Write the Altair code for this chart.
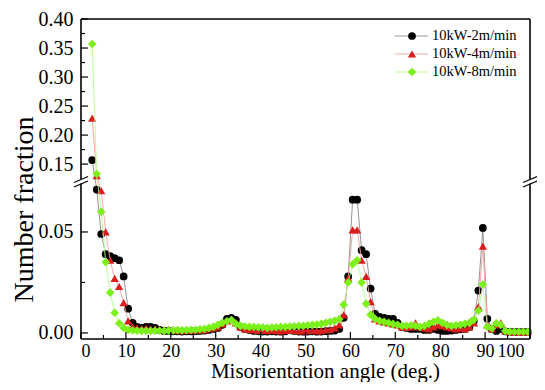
import altair as alt
import pandas as pd

# bin centres (deg.)
angles = [n + 0.5 for n in range(2, 100)]

s_2 = [0.157, 0.071, 0.049, 0.039, 0.038, 0.037, 0.036, 0.028, 0.012, 0.005,
       0.003, 0.0025, 0.003, 0.003, 0.0025, 0.0015, 0.001, 0.001, 0.0008, 0.0008,
       0.0007, 0.0008, 0.0008, 0.0009, 0.001, 0.0012, 0.0015, 0.002, 0.0025, 0.004,
       0.007, 0.0075, 0.0065, 0.003, 0.002, 0.0015, 0.001, 0.0008, 0.0007, 0.0007,
       0.0008, 0.0007, 0.0006, 0.0008, 0.0015, 0.001, 0.0007, 0.0006, 0.0007, 0.0008,
       0.0006, 0.0007, 0.0009, 0.001, 0.0012, 0.002, 0.0075, 0.028, 0.066, 0.066,
       0.041, 0.039, 0.022, 0.0095, 0.008, 0.0075, 0.007, 0.007, 0.005, 0.003,
       0.0025, 0.002, 0.002, 0.002, 0.0015, 0.0015, 0.002, 0.0015, 0.001, 0.001,
       0.0012, 0.0015, 0.0018, 0.002, 0.003, 0.006, 0.021, 0.052, 0.007, 0.002,
       0.001, 0.002, 0.0008, 0.0005, 0.0005, 0.0005, 0.0005, 0.0005]

s_4 = [0.229, 0.130, 0.0705, 0.050, 0.036, 0.027, 0.023, 0.015, 0.006, 0.003,
       0.0025, 0.0022, 0.0025, 0.002, 0.002, 0.0018, 0.0015, 0.0018, 0.0015, 0.0013,
       0.0012, 0.0014, 0.0013, 0.0015, 0.0016, 0.0015, 0.002, 0.0025, 0.003, 0.0045,
       0.006, 0.0065, 0.005, 0.003, 0.002, 0.0018, 0.0015, 0.0012, 0.0013, 0.0012,
       0.0014, 0.0012, 0.001, 0.0013, 0.0015, 0.0012, 0.001, 0.0012, 0.0011, 0.0013,
       0.001, 0.0012, 0.0015, 0.0018, 0.0025, 0.004, 0.009, 0.027, 0.051, 0.051,
       0.036, 0.028, 0.0155, 0.007, 0.006, 0.0055, 0.005, 0.0045, 0.004, 0.003,
       0.0028, 0.003, 0.005, 0.003, 0.0025, 0.002, 0.003, 0.004, 0.0035, 0.003,
       0.0025, 0.002, 0.0025, 0.002, 0.003, 0.005, 0.013, 0.043, 0.004, 0.002,
       0.004, 0.005, 0.001, 0.0005, 0.0005, 0.0005, 0.0005, 0.0005]

s_8 = [0.357, 0.133, 0.060, 0.035, 0.020, 0.010, 0.0048, 0.0025, 0.0015, 0.0012,
       0.0011, 0.001, 0.001, 0.001, 0.001, 0.0011, 0.001, 0.0012, 0.0013, 0.0014,
       0.0013, 0.0014, 0.0015, 0.0016, 0.0018, 0.002, 0.0025, 0.003, 0.004, 0.005,
       0.0058, 0.0064, 0.0045, 0.0035, 0.0032, 0.003, 0.003, 0.0028, 0.0028, 0.0025,
       0.0027, 0.0028, 0.003, 0.003, 0.0032, 0.0033, 0.0035, 0.0035, 0.0038, 0.004,
       0.0042, 0.0045, 0.005, 0.0055, 0.006, 0.0068, 0.014, 0.025, 0.034, 0.036,
       0.025, 0.0145, 0.009, 0.007, 0.006, 0.0055, 0.005, 0.0045, 0.004, 0.0035,
       0.0035, 0.0038, 0.0035, 0.003, 0.0035, 0.0045, 0.0055, 0.0062, 0.005, 0.004,
       0.0035, 0.0038, 0.004, 0.0045, 0.005, 0.0065, 0.011, 0.024, 0.003, 0.0022,
       0.0048, 0.004, 0.001, 0.0006, 0.0006, 0.0006, 0.0006, 0.0006]

series_names = ["10kW-2m/min", "10kW-4m/min", "10kW-8m/min"]
y_major = [0.0, 0.05, 0.15, 0.20, 0.25, 0.30, 0.35, 0.40]
y_minor = [0.025, 0.175, 0.225, 0.275, 0.325, 0.375]
x_major = [0, 10, 20, 30, 40, 50, 60, 70, 80, 90, 100]
x_minor = [5, 15, 25, 35, 45, 55, 65, 75, 85, 95]

W, H = 449, 320
BRK = 162.5
FONT = "Liberation Serif"

xscale = alt.Scale(domain=[0, 100], nice=False, zero=False)
yscale = alt.Scale(domain=[-0.003, 0.075, 0.12, 0.40], range=[H, BRK, BRK, 0],
                   zero=False, nice=False)

xaxis = alt.Axis(values=x_major, format="d", ticks=False, domain=False, grid=False,
                 labelFont=FONT, labelFontSize=18, labelColor="black", labelPadding=3,
                 labelOffset={"condition": {"test": "datum.value == 100", "value": -6}, "value": 0},
                 title="Misorientation angle (deg.)", titleFont=FONT, titleFontSize=21,
                 titleFontWeight="normal", titleColor="black", titleX=244, titleY=38,
                 titleBaseline="alphabetic", titleAlign="center")
yaxis = alt.Axis(values=y_major, format=".2f", ticks=False, domain=False, grid=False,
                 labelFont=FONT, labelFontSize=20, labelColor="black", labelPadding=8,
                 title="Number fraction", titleFont=FONT, titleFontSize=28,
                 titleFontWeight="normal", titleColor="black", titleX=-57, titleY=190,
                 titleAngle=270, titleBaseline="middle", titleAlign="center")

def X(field):
    return alt.X(field, type="quantitative", scale=xscale, axis=xaxis)

def Y(field):
    return alt.Y(field, type="quantitative", scale=yscale, axis=yaxis)

styles = [
    (s_2, "#8a8a8a", "black", "circle", 60),
    (s_4, "#f4a0a0", "#d81e1e", "triangle-up", 70),
    (s_8, "#b4ff90", "#7cf01a", "diamond", 75),
]

layers = []
for vals, lc, mc, shape, size in styles:
    df = pd.DataFrame({"angle": angles, "frac": vals})
    base = alt.Chart(df)
    layers.append(base.mark_line(color=lc, strokeWidth=0.9).encode(x=X("angle"), y=Y("frac")))
    layers.append(base.mark_point(filled=True, shape=shape, size=size, color=mc, opacity=1,
                                  strokeWidth=0).encode(x=X("angle"), y=Y("frac")))

# inward ticks
one = pd.DataFrame({"k": [0]})
layers.append(alt.Chart(pd.DataFrame({"v": y_major})).mark_rule(color="black", strokeWidth=1.2)
              .encode(y=Y("v"), x=alt.value(0), x2=alt.value(7)))
layers.append(alt.Chart(pd.DataFrame({"v": y_minor})).mark_rule(color="black", strokeWidth=1.2)
              .encode(y=Y("v"), x=alt.value(0), x2=alt.value(4)))
layers.append(alt.Chart(pd.DataFrame({"v": x_major})).mark_rule(color="black", strokeWidth=1.2)
              .encode(x=X("v"), y=alt.value(H), y2=alt.value(H - 7)))
layers.append(alt.Chart(pd.DataFrame({"v": x_minor})).mark_rule(color="black", strokeWidth=1.2)
              .encode(x=X("v"), y=alt.value(H), y2=alt.value(H - 4)))

# frame
frame = alt.Chart(one)
layers.append(frame.mark_rule(color="black", strokeWidth=1.6).encode(x=alt.value(0), x2=alt.value(W), y=alt.value(0)))
layers.append(frame.mark_rule(color="black", strokeWidth=1.6).encode(x=alt.value(0), x2=alt.value(W), y=alt.value(H)))
layers.append(frame.mark_rule(color="black", strokeWidth=1.6).encode(x=alt.value(0), y=alt.value(0), y2=alt.value(H)))
layers.append(frame.mark_rule(color="black", strokeWidth=1.6).encode(x=alt.value(W), y=alt.value(0), y2=alt.value(H)))

# axis break marks
for bx in (0, W):
    layers.append(frame.mark_rect(color="white").encode(
        x=alt.value(bx - 3), x2=alt.value(bx + 3), y=alt.value(BRK - 2.5), y2=alt.value(BRK + 2)))
    layers.append(frame.mark_rule(color="black", strokeWidth=1.2).encode(
        x=alt.value(bx - 7), x2=alt.value(bx + 7), y=alt.value(BRK + 5.5), y2=alt.value(BRK - 0.5)))
    layers.append(frame.mark_rule(color="black", strokeWidth=1.2).encode(
        x=alt.value(bx - 7), x2=alt.value(bx + 7), y=alt.value(BRK + 1), y2=alt.value(BRK - 5)))

# legend
for i, (name, (vals, lc, mc, shape, size)) in enumerate(zip(series_names, styles)):
    ly = 17 + 18 * i
    layers.append(frame.mark_rule(color=lc, strokeWidth=0.9).encode(
        x=alt.value(314), x2=alt.value(347), y=alt.value(ly)))
    layers.append(frame.mark_point(filled=True, shape=shape, size=size, color=mc, opacity=1,
                                   strokeWidth=0).encode(x=alt.value(331), y=alt.value(ly)))
    layers.append(frame.mark_text(text=name, align="left", baseline="middle", font=FONT,
                                  fontSize=14.5, color="black").encode(
        x=alt.value(351), y=alt.value(ly)))

chart = alt.layer(*layers).properties(
    width=W, height=H,
    autosize=alt.AutoSizeParams(type="none"),
    padding={"left": 73, "top": 11, "right": 7, "bottom": 43},
).configure_view(stroke=None)

chart.save("out.html", embed_options={"renderer": "svg", "actions": False})
